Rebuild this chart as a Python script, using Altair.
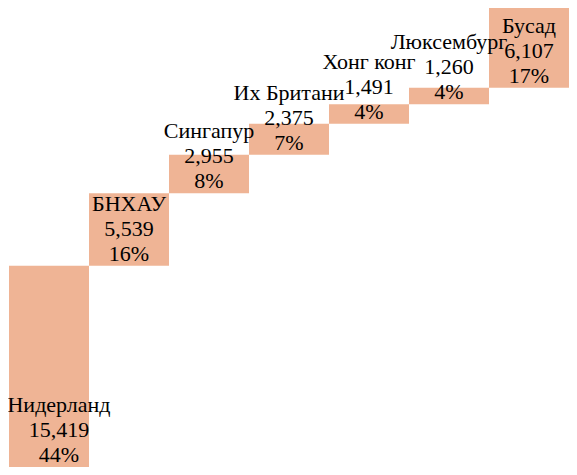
import altair as alt
import pandas as pd

countries = ["Нидерланд", "БНХАУ", "Сингапур", "Их Британи", "Хонг конг", "Люксембург", "Бусад"]
values = [15419, 5539, 2955, 2375, 1491, 1260, 6107]

total = sum(values)
rows = []
cum = 0
for i, (c, v) in enumerate(zip(countries, values)):
    rows.append(dict(order=i, country=c, value=v, start=cum, end=cum + v,
                     label=f"{c}\n{v:,}\n{round(100 * v / total)}%"))
    cum += v
df = pd.DataFrame(rows)

x = alt.X("country:N", sort=countries,
          scale=alt.Scale(paddingInner=0, paddingOuter=0), axis=None)
yscale = alt.Scale(domain=[0, total], nice=False, zero=True)

base = alt.Chart(df)

bars = base.mark_bar(color="#EFB495").encode(
    x=x,
    y=alt.Y("start:Q", scale=yscale, axis=None),
    y2="end:Q",
)

text_style = dict(font="Liberation Serif", fontSize=22, lineBreak="\n",
                  baseline="alphabetic", align="center", dy=-55, color="black",
                  lineHeight=25)

labels = base.transform_filter(alt.datum.order > 0).mark_text(**text_style).encode(
    x=x,
    y=alt.Y("start:Q", scale=yscale, axis=None),
    text="label:N",
)
first_label = base.transform_filter(alt.datum.order == 0).mark_text(dx=10, **text_style).encode(
    x=x,
    y=alt.Y("start:Q", scale=yscale, axis=None),
    text="label:N",
)

chart = alt.layer(bars, labels, first_label).properties(
    width=560, height=459,
    padding={"left": 1, "top": 0, "right": 0, "bottom": 0},
    autosize="none",
).configure_view(stroke=None)

chart.save("out.html", embed_options={"renderer": "svg", "actions": False})
